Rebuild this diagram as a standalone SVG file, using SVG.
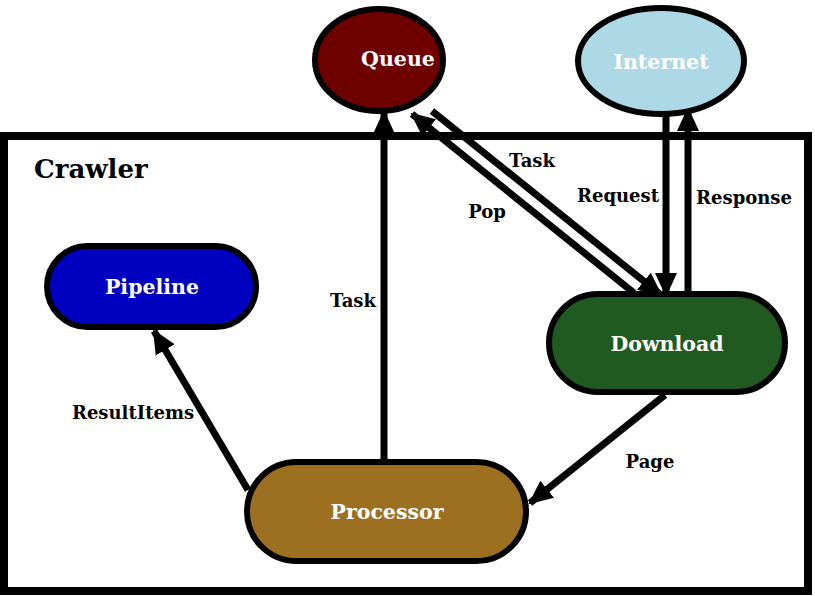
<svg xmlns="http://www.w3.org/2000/svg" width="815" height="596" viewBox="0 0 815 596">
<style>
.node{stroke:#000;stroke-width:6}
.nl{font-family:"DejaVu Serif","Liberation Serif",serif;font-weight:bold;font-size:20.5px;fill:#fff;text-anchor:middle;dominant-baseline:central}
.el{font-family:"DejaVu Serif","Liberation Serif",serif;font-weight:bold;font-size:18px;fill:#000;text-anchor:middle;dominant-baseline:central}
.c{stroke:#000;stroke-width:7;fill:none;marker-end:url(#ah)}
</style>
<defs>
<marker id="ah" markerUnits="userSpaceOnUse" markerWidth="24" markerHeight="24" viewBox="0 0 24 24" refX="22" refY="12" orient="auto">
<path d="M0,1 L24,12 L0,23 Z" fill="#000"/>
</marker>
</defs>
<rect width="815" height="596" fill="#fff"/>
<g id="crawler">
<rect x="4" y="136" width="804" height="455" fill="none" stroke="#000" stroke-width="8"/>
<text x="34" y="169" font-family="DejaVu Serif, Liberation Serif, serif" font-weight="bold" font-size="26" dominant-baseline="central">Crawler</text>
</g>
<g id="connectors">
<line class="c" x1="248" y1="490" x2="154" y2="331"/>
<line class="c" x1="384" y1="462" x2="384" y2="112"/>
<line class="c" x1="634" y1="293" x2="412" y2="114"/>
<line class="c" x1="432" y1="111" x2="661" y2="295"/>
<line class="c" x1="666" y1="114" x2="666" y2="295"/>
<line class="c" x1="688" y1="293" x2="688" y2="109"/>
<line class="c" x1="665" y1="395" x2="530" y2="503"/>
<text class="el" x="133" y="412">ResultItems</text>
<text class="el" x="353" y="300">Task</text>
<text class="el" x="532" y="160">Task</text>
<text class="el" x="487" y="211">Pop</text>
<text class="el" x="618" y="195">Request</text>
<text class="el" x="744" y="197">Response</text>
<text class="el" x="650" y="461">Page</text>
</g>
<g id="queue">
<ellipse class="node" cx="379" cy="60" rx="64" ry="51" fill="#6e0000"/>
<text class="nl" x="398" y="59">Queue</text>
</g>
<g id="internet">
<ellipse class="node" cx="661" cy="61" rx="83" ry="53" fill="#add8e6"/>
<text class="nl" x="661" y="62">Internet</text>
</g>
<g id="pipeline">
<rect class="node" x="47" y="246" width="209" height="81" rx="40.5" fill="#0000c0"/>
<text class="nl" x="152" y="287">Pipeline</text>
</g>
<g id="download">
<rect class="node" x="549" y="294" width="236" height="98" rx="49" fill="#215a21"/>
<text class="nl" x="667" y="344">Download</text>
</g>
<g id="processor">
<rect class="node" x="247" y="462" width="279" height="99" rx="49.5" fill="#9c7020"/>
<text class="nl" x="387" y="512">Processor</text>
</g>
</svg>
